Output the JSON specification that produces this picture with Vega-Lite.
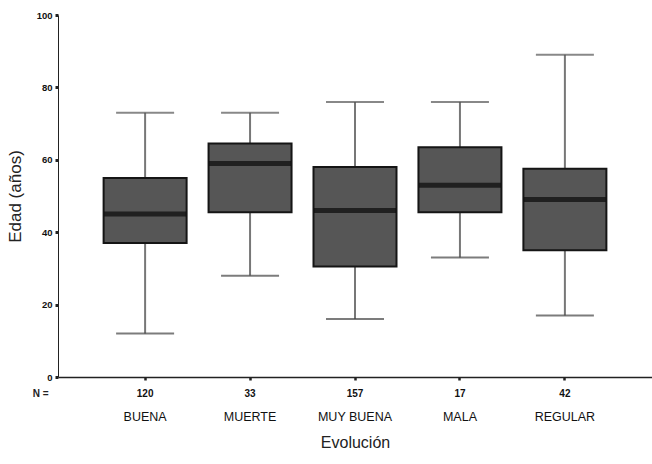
{
  "$schema": "https://vega.github.io/schema/vega-lite/v6.json",
  "width": 594,
  "height": 362,
  "autosize": {"type": "none"},
  "padding": {"left": 58, "top": 15, "right": 0, "bottom": 87},
  "background": "white",
  "config": {
    "view": {"stroke": null},
    "font": "Liberation Sans",
    "axis": {"grid": false, "domainColor": "#222", "tickColor": "#222", "labelColor": "#111", "titleColor": "#222", "titleFontWeight": "normal"}
  },
  "data": {
    "values": [
      {"cat": "BUENA", "n": "120", "lower": 12, "q1": 37, "median": 45, "q3": 55, "upper": 73},
      {"cat": "MUERTE", "n": "33", "lower": 28, "q1": 45.5, "median": 59, "q3": 64.5, "upper": 73},
      {"cat": "MUY BUENA", "n": "157", "lower": 16, "q1": 30.5, "median": 46, "q3": 58, "upper": 76},
      {"cat": "MALA", "n": "17", "lower": 33, "q1": 45.5, "median": 53, "q3": 63.5, "upper": 76},
      {"cat": "REGULAR", "n": "42", "lower": 17, "q1": 35, "median": 49, "q3": 57.5, "upper": 89}
    ]
  },
  "layer": [
    {
      "encoding": {
        "x": {
          "field": "cat", "type": "nominal", "sort": null,
          "scale": {"paddingInner": 0, "paddingOuter": 0.33},
          "axis": {"orient": "bottom", "offset": 31, "domain": false, "ticks": false, "labelAngle": 0, "labelFontSize": 12.5, "labelPadding": 2, "title": "Evolución", "titleFontSize": 16, "titlePadding": 12}
        }
      },
      "layer": [
        {
          "mark": {"type": "rule", "color": "#777", "strokeWidth": 2},
          "encoding": {
            "y": {"field": "lower", "type": "quantitative", "scale": {"domain": [0, 100], "nice": false},
              "axis": {"values": [0, 20, 40, 60, 80, 100], "tickSize": 3, "tickWidth": 3, "labelFontSize": 9.5, "labelFontWeight": "bold", "labelPadding": 3, "title": "Edad (años)", "titleFontSize": 17, "titlePadding": 12}},
            "y2": {"field": "upper"}
          }
        },
        {
          "mark": {"type": "bar", "size": 83, "fill": "#565656", "stroke": "#151515", "strokeWidth": 2},
          "encoding": {
            "y": {"field": "q1", "type": "quantitative"},
            "y2": {"field": "q3"}
          }
        },
        {
          "mark": {"type": "tick", "size": 82, "thickness": 5, "color": "#0a0a0a"},
          "encoding": {"y": {"field": "median", "type": "quantitative"}}
        },
        {
          "mark": {"type": "tick", "size": 58, "thickness": 2, "color": "#555"},
          "encoding": {"y": {"field": "upper", "type": "quantitative"}}
        },
        {
          "mark": {"type": "tick", "size": 58, "thickness": 2, "color": "#444"},
          "encoding": {"y": {"field": "lower", "type": "quantitative"}}
        }
      ]
    },
    {
      "mark": {"type": "tick", "opacity": 0},
      "encoding": {
        "x": {
          "field": "n", "type": "nominal", "sort": null,
          "scale": {"paddingInner": 0, "paddingOuter": 0.33},
          "axis": {"orient": "bottom", "domain": true, "domainWidth": 1.5, "ticks": true, "tickSize": 3, "tickWidth": 2.5, "labelAngle": 0, "labelFontSize": 10, "labelFontWeight": "bold", "labelPadding": 8, "title": "N =", "titleFontSize": 10, "titleFontWeight": "bold", "titleAnchor": "start", "titleAlign": "right", "titleX": -10, "titleY": 16, "titleBaseline": "middle"}
        },
        "y": {"field": "median", "type": "quantitative"}
      }
    }
  ],
  "resolve": {"scale": {"x": "independent"}}
}
